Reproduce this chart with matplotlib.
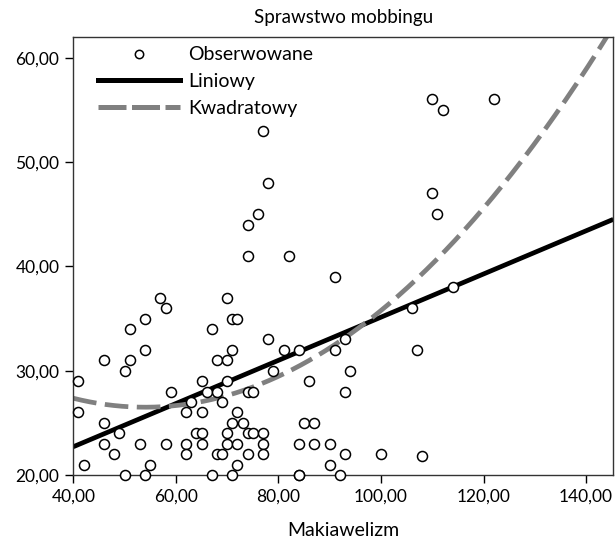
import numpy as np
import matplotlib
matplotlib.use("Agg")
import matplotlib.pyplot as plt
from matplotlib.lines import Line2D

plt.rcParams['font.family'] = ['Lato', 'DejaVu Sans']

# Observed data (Makiawelizm, Sprawstwo mobbingu)
makiawelizm = [41, 41, 42, 46, 46, 46, 48, 49, 50, 50, 51, 51, 53, 54, 54, 54, 55, 57, 58, 58,
               59, 62, 62, 62, 63, 65, 65, 64, 65, 65, 66, 67, 67, 68, 70, 68, 69, 68, 69, 70,
               71, 72, 71, 70, 70, 70, 71, 72, 73, 72, 72, 71, 74, 75, 74, 74, 75,
               91, 78, 81, 84, 79, 91, 93, 94, 86, 93, 106, 107, 77, 77, 77, 85, 87, 84, 87,
               90, 93, 100, 108, 90, 84, 84, 92,
               77, 78, 76, 74, 74, 82, 110, 112, 122, 110, 111, 114]
mobbing = [29, 26, 21, 31, 25, 23, 22, 24, 30, 20, 34, 31, 23, 35, 32, 20, 21, 37, 36, 23,
           28, 26, 23, 22, 27, 29, 26, 24, 24, 23, 28, 34, 20, 31, 31, 28, 27, 22, 22, 37,
           35, 35, 32, 29, 24, 23, 25, 26, 25, 23, 21, 20, 24, 24, 22, 28, 28,
           39, 33, 32, 32, 30, 32, 33, 30, 29, 28, 36, 32, 24, 23, 22, 25, 25, 23, 23,
           23, 22, 22, 21.8, 21, 20, 20, 20,
           53, 48, 45, 44, 41, 41, 56, 55, 56, 47, 45, 38]

# Fitted model coefficients (highest power first)
linear_coef = [0.207, 14.43]
quadratic_coef = [0.00438, -0.47304, 39.272]

x_ticks = [40, 60, 80, 100, 120, 140]
y_ticks = [20, 30, 40, 50, 60]
tick_fmt = lambda v: f"{v:.2f}".replace('.', ',')

x = np.array(makiawelizm, dtype=float)
y = np.array(mobbing, dtype=float)

fig = plt.figure(figsize=(6.16, 5.42), dpi=100)
ax = fig.add_axes([0.119, 0.1236, 0.8766, 0.8084])

xmin, xmax = 40, 145.3
ymin, ymax = 20, 62

xs = np.linspace(xmin, xmax, 400)

ax.plot(xs, np.polyval(linear_coef, xs), color='black', lw=3.4, solid_capstyle='butt', zorder=2)
ax.plot(xs, np.polyval(quadratic_coef, xs), color='#808080', lw=3.4, dashes=(5.0, 1.8), zorder=2)
ax.scatter(x, y, s=52, facecolors='white', edgecolors='black', linewidths=1.1, zorder=3, clip_on=False)

ax.set_xlim(xmin, xmax)
ax.set_ylim(ymin, ymax)
ax.set_xticks(x_ticks)
ax.set_yticks(y_ticks)
ax.set_xticklabels([tick_fmt(v) for v in x_ticks], fontsize=12.5)
ax.set_yticklabels([tick_fmt(v) for v in y_ticks], fontsize=12.5)
ax.tick_params(direction='out', length=6, width=1, colors='black', pad=4)
for s in ax.spines.values():
    s.set_color('#333333')
    s.set_linewidth(1.0)

fig.text(0.5573, 1 - 17 / 542, 'Sprawstwo mobbingu', fontsize=13.5, ha='center', va='center')
fig.text(0.5573, 1 - 531 / 542, 'Makiawelizm', fontsize=14, ha='center', va='center')

handles = [
    Line2D([], [], ls='none', marker='o', ms=6, mfc='white', mec='black', mew=1.1),
    Line2D([], [], color='black', lw=3.6),
    Line2D([], [], color='#808080', lw=3.6, dashes=(5.6, 1.1)),
]
ax.legend(handles, ['Obserwowane', 'Liniowy', 'Kwadratowy'], loc='upper left',
          bbox_to_anchor=(0.0457, 0.978), frameon=False, fontsize=14,
          handlelength=4.23, handletextpad=0.41, labelspacing=0.5,
          borderaxespad=0.0, borderpad=0.0)

fig.savefig('out.png', dpi=100)
